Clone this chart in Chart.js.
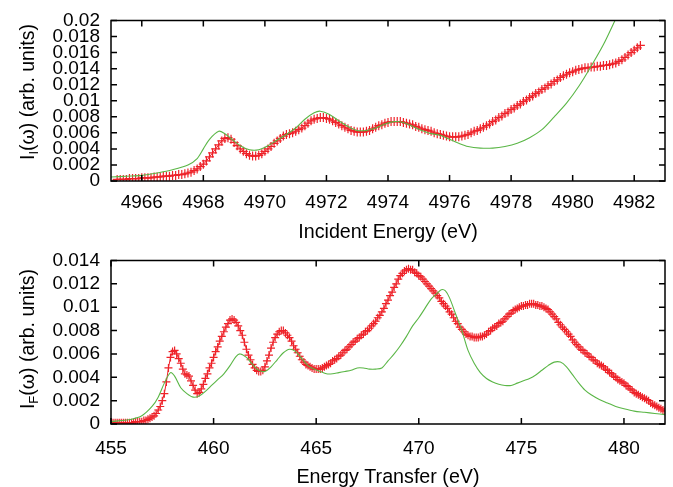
<!DOCTYPE html>
<html lang="en">
<head>
<meta charset="UTF-8">
<script src="https://cdn.jsdelivr.net/npm/chart.js"></script>
<style>
    body { margin: 0; background: #fff; }
    #wrap { position: relative; width: 673px; height: 487px; }
    .panel { position: absolute; left: 0; width: 673px; }
    #topPanel { top: 0; height: 250px; }
    #botPanel { top: 240px; height: 247px; }
</style>
<title>RIXS spectra</title>
</head>
<body>
<div id="wrap">
    <div class="panel" id="topPanel"><canvas id="topChart" width="673" height="250"></canvas></div>
    <div class="panel" id="botPanel"><canvas id="botChart" width="673" height="247"></canvas></div>
</div>
<script>
    // ---- top panel: incident energy ----
    var topXTicks = [4966, 4968, 4970, 4972, 4974, 4976, 4978, 4980, 4982];
    var topYTicks = [0, 0.002, 0.004, 0.006, 0.008, 0.01, 0.012, 0.014, 0.016, 0.018, 0.02];

    // red: sampled every 0.1 eV from 4965.2
    var redTopStart = 4965.2;
    var redTopStep = 0.1;
    var redTop = [
        .0002,.0002,.0002,.0002,.0003,.0003,.0003,.0003,.0004,.0004,
        .0004,.0004,.0005,.0005,.0005,.0006,.0006,.0006,.0007,.0007,
        .0008,.0008,.0009,.0010,.0011,.0013,.0015,.0018,.0021,.0025,
        .0030,.0035,.0040,.0045,.0050,.0053,.0054,.0052,.0048,.0044,
        .0040,.0037,.0034,.0032,.0031,.0031,.0032,.0034,.0037,.0040,
        .0043,.0047,.0050,.0053,.0056,.0058,.0059,.0060,.0062,.0064,
        .0066,.0069,.0072,.0075,.0077,.0078,.0079,.0079,.0078,.0077,
        .0075,.0073,.0071,.0069,.0067,.0065,.0063,.0062,.0061,.0061,
        .0061,.0062,.0063,.0065,.0067,.0069,.0070,.0072,.0073,.0074,
        .0074,.0074,.0074,.0073,.0072,.0071,.0070,.0068,.0067,.0065,
        .0064,.0063,.0062,.0060,.0059,.0058,.0057,.0056,.0055,.0055,
        .0055,.0055,.0056,.0057,.0058,.0060,.0062,.0063,.0065,.0067,
        .0069,.0071,.0074,.0076,.0079,.0081,.0084,.0086,.0089,.0091,
        .0094,.0096,.0099,.0101,.0104,.0106,.0109,.0111,.0114,.0116,
        .0119,.0121,.0124,.0126,.0129,.0131,.0133,.0135,.0136,.0138,
        .0139,.0140,.0141,.0141,.0142,.0142,.0143,.0143,.0144,.0144,
        .0145,.0146,.0147,.0149,.0151,.0154,.0157,.0160,.0163,.0166,
        .0169
    ];

    var greenTopX = [4965.0,4965.5,4966.0,4966.5,4967.0,4967.5,4967.8,4968.0,4968.2,4968.5,
        4968.7,4968.9,4969.2,4969.5,4969.8,4970.1,4970.4,4970.7,4971.0,4971.3,
        4971.6,4971.8,4972.1,4972.4,4972.7,4973.0,4973.3,4973.6,4973.9,4974.2,
        4974.5,4974.8,4975.1,4975.4,4975.7,4976.0,4976.3,4976.6,4977.0,4977.4,
        4977.8,4978.2,4978.6,4979.0,4979.4,4979.8,4980.2,4980.6,4981.0,4981.4,4981.7];
    var greenTopY = [.0005,.0006,.0007,.0010,.0014,.0020,.0028,.0040,.0052,.0062,
        .0059,.0053,.0044,.0039,.0039,.0044,.0051,.0058,.0066,.0077,
        .0085,.0087,.0083,.0075,.0068,.0063,.0063,.0066,.0071,.0074,
        .0073,.0068,.0063,.0059,.0057,.0052,.0047,.0043,.0041,.0041,
        .0043,.0047,.0054,.0064,.0080,.0097,.0118,.0143,.0170,.0202,.0226];

    // ---- bottom panel: energy transfer ----
    var botXTicks = [455, 460, 465, 470, 475, 480];
    var botYTicks = [0, 0.002, 0.004, 0.006, 0.008, 0.01, 0.012, 0.014];

    // red: sampled every 0.1 eV from 455.0
    var redBotStart = 455.0;
    var redBotStep = 0.1;
    var redBot = [
        .0001,.0001,.0001,.0001,.0001,.0001,.0001,.0001,.0001,.0001,
        .0001,.0001,.0002,.0002,.0002,.0002,.0003,.0003,.0004,.0005,
        .0006,.0007,.0009,.0012,.0015,.0020,.0026,.0036,.0048,.0057,
        .0062,.0063,.0060,.0056,.0052,.0047,.0043,.0042,.0041,.0037,
        .0033,.0029,.0026,.0027,.0030,.0034,.0039,.0043,.0048,.0052,
        .0057,.0062,.0066,.0071,.0075,.0079,.0083,.0086,.0089,.0090,
        .0089,.0087,.0084,.0080,.0076,.0070,.0064,.0059,.0055,.0051,
        .0048,.0046,.0045,.0045,.0046,.0049,.0054,.0059,.0065,.0070,
        .0074,.0077,.0079,.0080,.0080,.0078,.0076,.0074,.0071,.0067,
        .0064,.0061,.0058,.0055,.0053,.0051,.0050,.0049,.0048,.0047,
        .0047,.0047,.0047,.0048,.0049,.0050,.0051,.0052,.0054,.0055,
        .0056,.0058,.0059,.0061,.0063,.0064,.0066,.0068,.0070,.0071,
        .0073,.0074,.0076,.0077,.0079,.0080,.0082,.0084,.0086,.0088,
        .0091,.0093,.0096,.0099,.0103,.0106,.0110,.0113,.0117,.0120,
        .0124,.0127,.0129,.0131,.0132,.0133,.0132,.0132,.0130,.0129,
        .0127,.0126,.0124,.0122,.0120,.0118,.0116,.0114,.0112,.0110,
        .0108,.0105,.0103,.0101,.0099,.0096,.0094,.0091,.0088,.0086,
        .0083,.0081,.0079,.0077,.0076,.0075,.0075,.0074,.0074,.0074,
        .0075,.0075,.0076,.0077,.0079,.0080,.0082,.0083,.0084,.0086,
        .0087,.0088,.0090,.0092,.0094,.0095,.0097,.0098,.0099,.0100,
        .0101,.0101,.0102,.0102,.0103,.0103,.0103,.0102,.0102,.0101,
        .0101,.0100,.0099,.0098,.0096,.0094,.0092,.0090,.0087,.0085,
        .0083,.0081,.0079,.0077,.0075,.0072,.0070,.0068,.0066,.0064,
        .0063,.0061,.0060,.0058,.0057,.0055,.0054,.0052,.0051,.0050,
        .0049,.0047,.0046,.0044,.0043,.0041,.0040,.0038,.0037,.0036,
        .0035,.0033,.0032,.0030,.0029,.0027,.0026,.0025,.0024,.0023,
        .0022,.0021,.0020,.0018,.0017,.0016,.0015,.0014,.0013,.0012,
        .0011
    ];

    var greenBotX = [455.0,455.5,456.0,456.5,457.0,457.3,457.6,457.9,
        458.1,458.4,458.7,459.0,459.3,459.6,459.9,
        460.2,460.5,460.8,461.1,461.3,461.6,461.9,
        462.2,462.5,462.8,463.1,463.4,463.7,
        464.0,464.3,464.6,464.9,465.2,465.5,465.8,
        466.1,466.4,466.7,467.0,467.3,467.6,467.9,
        468.2,468.5,468.8,469.1,469.4,469.7,
        470.0,470.3,470.6,470.9,471.1,471.3,471.5,471.8,
        472.1,472.4,472.7,473.0,473.3,473.6,473.9,
        474.2,474.5,474.8,475.1,475.4,475.7,
        476.0,476.3,476.6,476.9,477.2,477.5,477.8,
        478.1,478.4,478.8,479.2,479.6,480.0,480.5,481.0,481.5,482.0];
    var greenBotY = [.0002,.0003,.0004,.0007,.0015,.0023,.0035,.0044,
        .0041,.0031,.0026,.0023,.0024,.0028,.0033,
        .0038,.0043,.0050,.0058,.0060,.0057,.0051,
        .0046,.0045,.0049,.0055,.0061,.0064,
        .0062,.0056,.0050,.0047,.0045,.0043,.0043,
        .0044,.0045,.0046,.0048,.0048,.0047,.0047,
        .0048,.0054,.0060,.0067,.0075,.0084,
        .0091,.0099,.0107,.0112,.0115,.0114,.0108,.0094,
        .0080,.0063,.0052,.0044,.0039,.0036,.0034,
        .0033,.0033,.0035,.0037,.0039,.0042,
        .0046,.0050,.0053,.0053,.0049,.0042,.0035,
        .0029,.0025,.0021,.0018,.0015,.0013,.0011,.0010,.0009,.0008];

    var FAM = "'Liberation Sans', Arial, Helvetica, sans-serif";
    var RED = '#ee2229';
    var GREEN = '#5ab646';

    Chart.defaults.font.family = FAM;
    Chart.defaults.font.size = 19;
    Chart.defaults.color = '#000';

    function stepPoints(start, step, vals) {
        return vals.map((v, i) => ({x: +(start + i * step).toFixed(2), y: v}));
    }
    function pairPoints(xs, ys) {
        return xs.map((x, i) => ({x: x, y: ys[i]}));
    }

    // box, inward ticks on all four sides, y title with subscript
    const framePlugin = {
        id: 'frame',
        afterDatasetsDraw(chart, args, opts) {
            const ctx = chart.ctx;
            const a = chart.chartArea;
            const xs = chart.scales.x, ys = chart.scales.y;
            ctx.save();
            ctx.strokeStyle = '#000';
            ctx.lineWidth = 1.5;
            ctx.beginPath();
            xs.ticks.forEach(t => {
                let px = xs.getPixelForValue(t.value);
                ctx.moveTo(px, a.bottom); ctx.lineTo(px, a.bottom - 6);
                ctx.moveTo(px, a.top); ctx.lineTo(px, a.top + 6);
            });
            ys.ticks.forEach(t => {
                let py = ys.getPixelForValue(t.value);
                ctx.moveTo(a.left, py); ctx.lineTo(a.left + 6, py);
                ctx.moveTo(a.right, py); ctx.lineTo(a.right - 6, py);
            });
            ctx.stroke();
            ctx.strokeRect(a.left, a.top, a.right - a.left, a.bottom - a.top);

            // rotated y title
            ctx.translate(opts.x, opts.y);
            ctx.rotate(-Math.PI / 2);
            ctx.fillStyle = '#000';
            ctx.textBaseline = 'alphabetic';
            let big = '19.5px ' + FAM, small = '13px ' + FAM;
            ctx.font = big;
            let w1 = ctx.measureText('I').width;
            let w3 = ctx.measureText(opts.rest).width;
            ctx.font = small;
            let w2 = ctx.measureText(opts.sub).width;
            let x0 = -(w1 + w2 + w3) / 2;
            ctx.font = big;
            ctx.fillText('I', x0, 7);
            ctx.font = small;
            ctx.fillText(opts.sub, x0 + w1, 11);
            ctx.font = big;
            ctx.fillText(opts.rest, x0 + w1 + w2, 7);
            ctx.restore();
        }
    };

    function makeChart(id, cfg) {
        return new Chart(document.getElementById(id), {
            type: 'line',
            data: {
                datasets: [
                    {
                        data: cfg.green,
                        borderColor: GREEN,
                        borderWidth: 1.1,
                        pointRadius: 0,
                        tension: 0.3,
                        fill: false
                    },
                    {
                        data: cfg.red,
                        borderColor: RED,
                        borderWidth: 1,
                        pointStyle: 'cross',
                        pointRadius: cfg.pr,
                        pointBorderColor: RED,
                        pointBorderWidth: 1.2,
                        tension: 0,
                        fill: false
                    }
                ]
            },
            options: {
                responsive: false,
                animation: false,
                devicePixelRatio: 1,
                layout: { padding: { top: cfg.padTop, right: 8, left: 0, bottom: 0 } },
                plugins: {
                    legend: { display: false },
                    tooltip: { enabled: false },
                    frame: { x: 27, y: cfg.titleY, sub: cfg.sub, rest: '(\u03c9) (arb. units)' }
                },
                scales: {
                    x: {
                        type: 'linear',
                        min: cfg.xmin,
                        max: cfg.xmax,
                        grid: { display: false, drawTicks: false },
                        border: { display: false },
                        afterBuildTicks: s => { s.ticks = cfg.xticks.map(v => ({value: v})); },
                        afterFit: s => { s.height = cfg.xh; },
                        ticks: {
                            padding: cfg.tickPad,
                            maxRotation: 0,
                            autoSkip: false,
                            font: { size: 19, lineHeight: 1 },
                            callback: v => String(v)
                        },
                        title: {
                            display: true,
                            text: cfg.xtitle,
                            font: { size: 19.7, lineHeight: 1 },
                            padding: { top: 0, bottom: cfg.titlePad }
                        }
                    },
                    y: {
                        min: 0,
                        max: cfg.ymax,
                        grid: { display: false, drawTicks: false },
                        border: { display: false },
                        afterBuildTicks: s => { s.ticks = cfg.yticks.map(v => ({value: v})); },
                        afterFit: s => { s.width = 111; },
                        ticks: {
                            padding: 11,
                            autoSkip: false,
                            font: { size: 19, lineHeight: 1 },
                            callback: v => String(+v.toFixed(3))
                        }
                    }
                }
            },
            plugins: [framePlugin]
        });
    }

    makeChart('topChart', {
        green: pairPoints(greenTopX, greenTopY),
        red: stepPoints(redTopStart, redTopStep, redTop),
        pr: 4.5,
        xmin: 4965, xmax: 4983, ymax: 0.02,
        xticks: topXTicks, yticks: topYTicks,
        padTop: 14, xh: 69, tickPad: 12, titlePad: 7.5,
        xtitle: 'Incident Energy (eV)',
        sub: 'I', titleY: 92
    });

    makeChart('botChart', {
        green: pairPoints(greenBotX, greenBotY),
        red: stepPoints(redBotStart, redBotStep, redBot),
        pr: 4,
        xmin: 455, xmax: 482, ymax: 0.014,
        xticks: botXTicks, yticks: botYTicks,
        padTop: 19, xh: 63, tickPad: 15, titlePad: 0,
        xtitle: 'Energy Transfer (eV)',
        sub: 'F', titleY: 99
    });
</script>
</body>
</html>
